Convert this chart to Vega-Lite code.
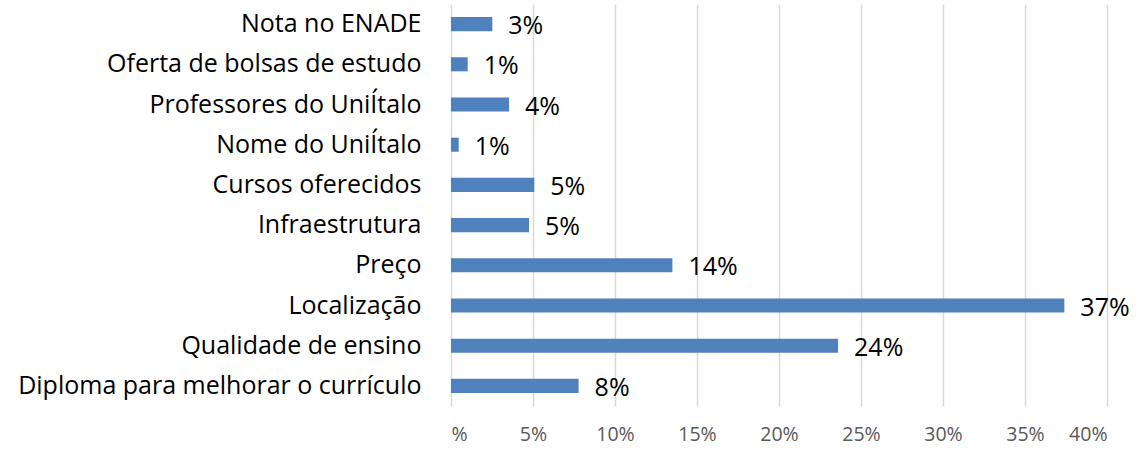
{
  "$schema": "https://vega.github.io/schema/vega-lite/v6.json",
  "width": 656,
  "height": 402,
  "autosize": {"type": "none"},
  "padding": {"left": 451, "top": 4, "right": 32, "bottom": 44},
  "background": "white",
  "config": {"view": {"stroke": null}, "font": "Open Sans"},
  "data": {
    "values": [
      {"item": "Nota no ENADE", "value": 2.52, "label": "3%"},
      {"item": "Oferta de bolsas de estudo", "value": 1.02, "label": "1%"},
      {"item": "Professores do UniÍtalo", "value": 3.54, "label": "4%"},
      {"item": "Nome do UniÍtalo", "value": 0.47, "label": "1%"},
      {"item": "Cursos oferecidos", "value": 5.08, "label": "5%"},
      {"item": "Infraestrutura", "value": 4.76, "label": "5%"},
      {"item": "Preço", "value": 13.5, "label": "14%"},
      {"item": "Localização", "value": 37.4, "label": "37%"},
      {"item": "Qualidade de ensino", "value": 23.6, "label": "24%"},
      {"item": "Diploma para melhorar o currículo", "value": 7.78, "label": "8%"}
    ]
  },
  "encoding": {
    "y": {
      "field": "item",
      "type": "nominal",
      "sort": null,
      "scale": {"paddingInner": 0.65, "paddingOuter": 0.325},
      "axis": {
        "title": null,
        "ticks": false,
        "domain": false,
        "labelFontSize": 25,
        "labelColor": "#000000",
        "labelPadding": 30,
        "labelLimit": 600
      }
    },
    "x": {
      "field": "value",
      "type": "quantitative",
      "scale": {"domain": [0, 40], "nice": false},
      "axis": {
        "title": null,
        "values": [0, 5, 10, 15, 20, 25, 30, 35, 40],
        "labelExpr": "datum.value == 0 ? '%' : datum.value + '%'",
        "ticks": false,
        "domain": false,
        "grid": true,
        "gridColor": "#d9d9d9",
        "gridWidth": 1.5,
        "labelFontSize": 19.5,
        "labelColor": "#595959",
        "labelPadding": 19
      }
    }
  },
  "layer": [
    {"mark": {"type": "bar", "color": "#4f81bd"}},
    {
      "mark": {"type": "text", "align": "left", "dx": 16, "fontSize": 25, "color": "#000000", "baseline": "middle", "dy": 2},
      "encoding": {"text": {"field": "label"}}
    }
  ]
}
